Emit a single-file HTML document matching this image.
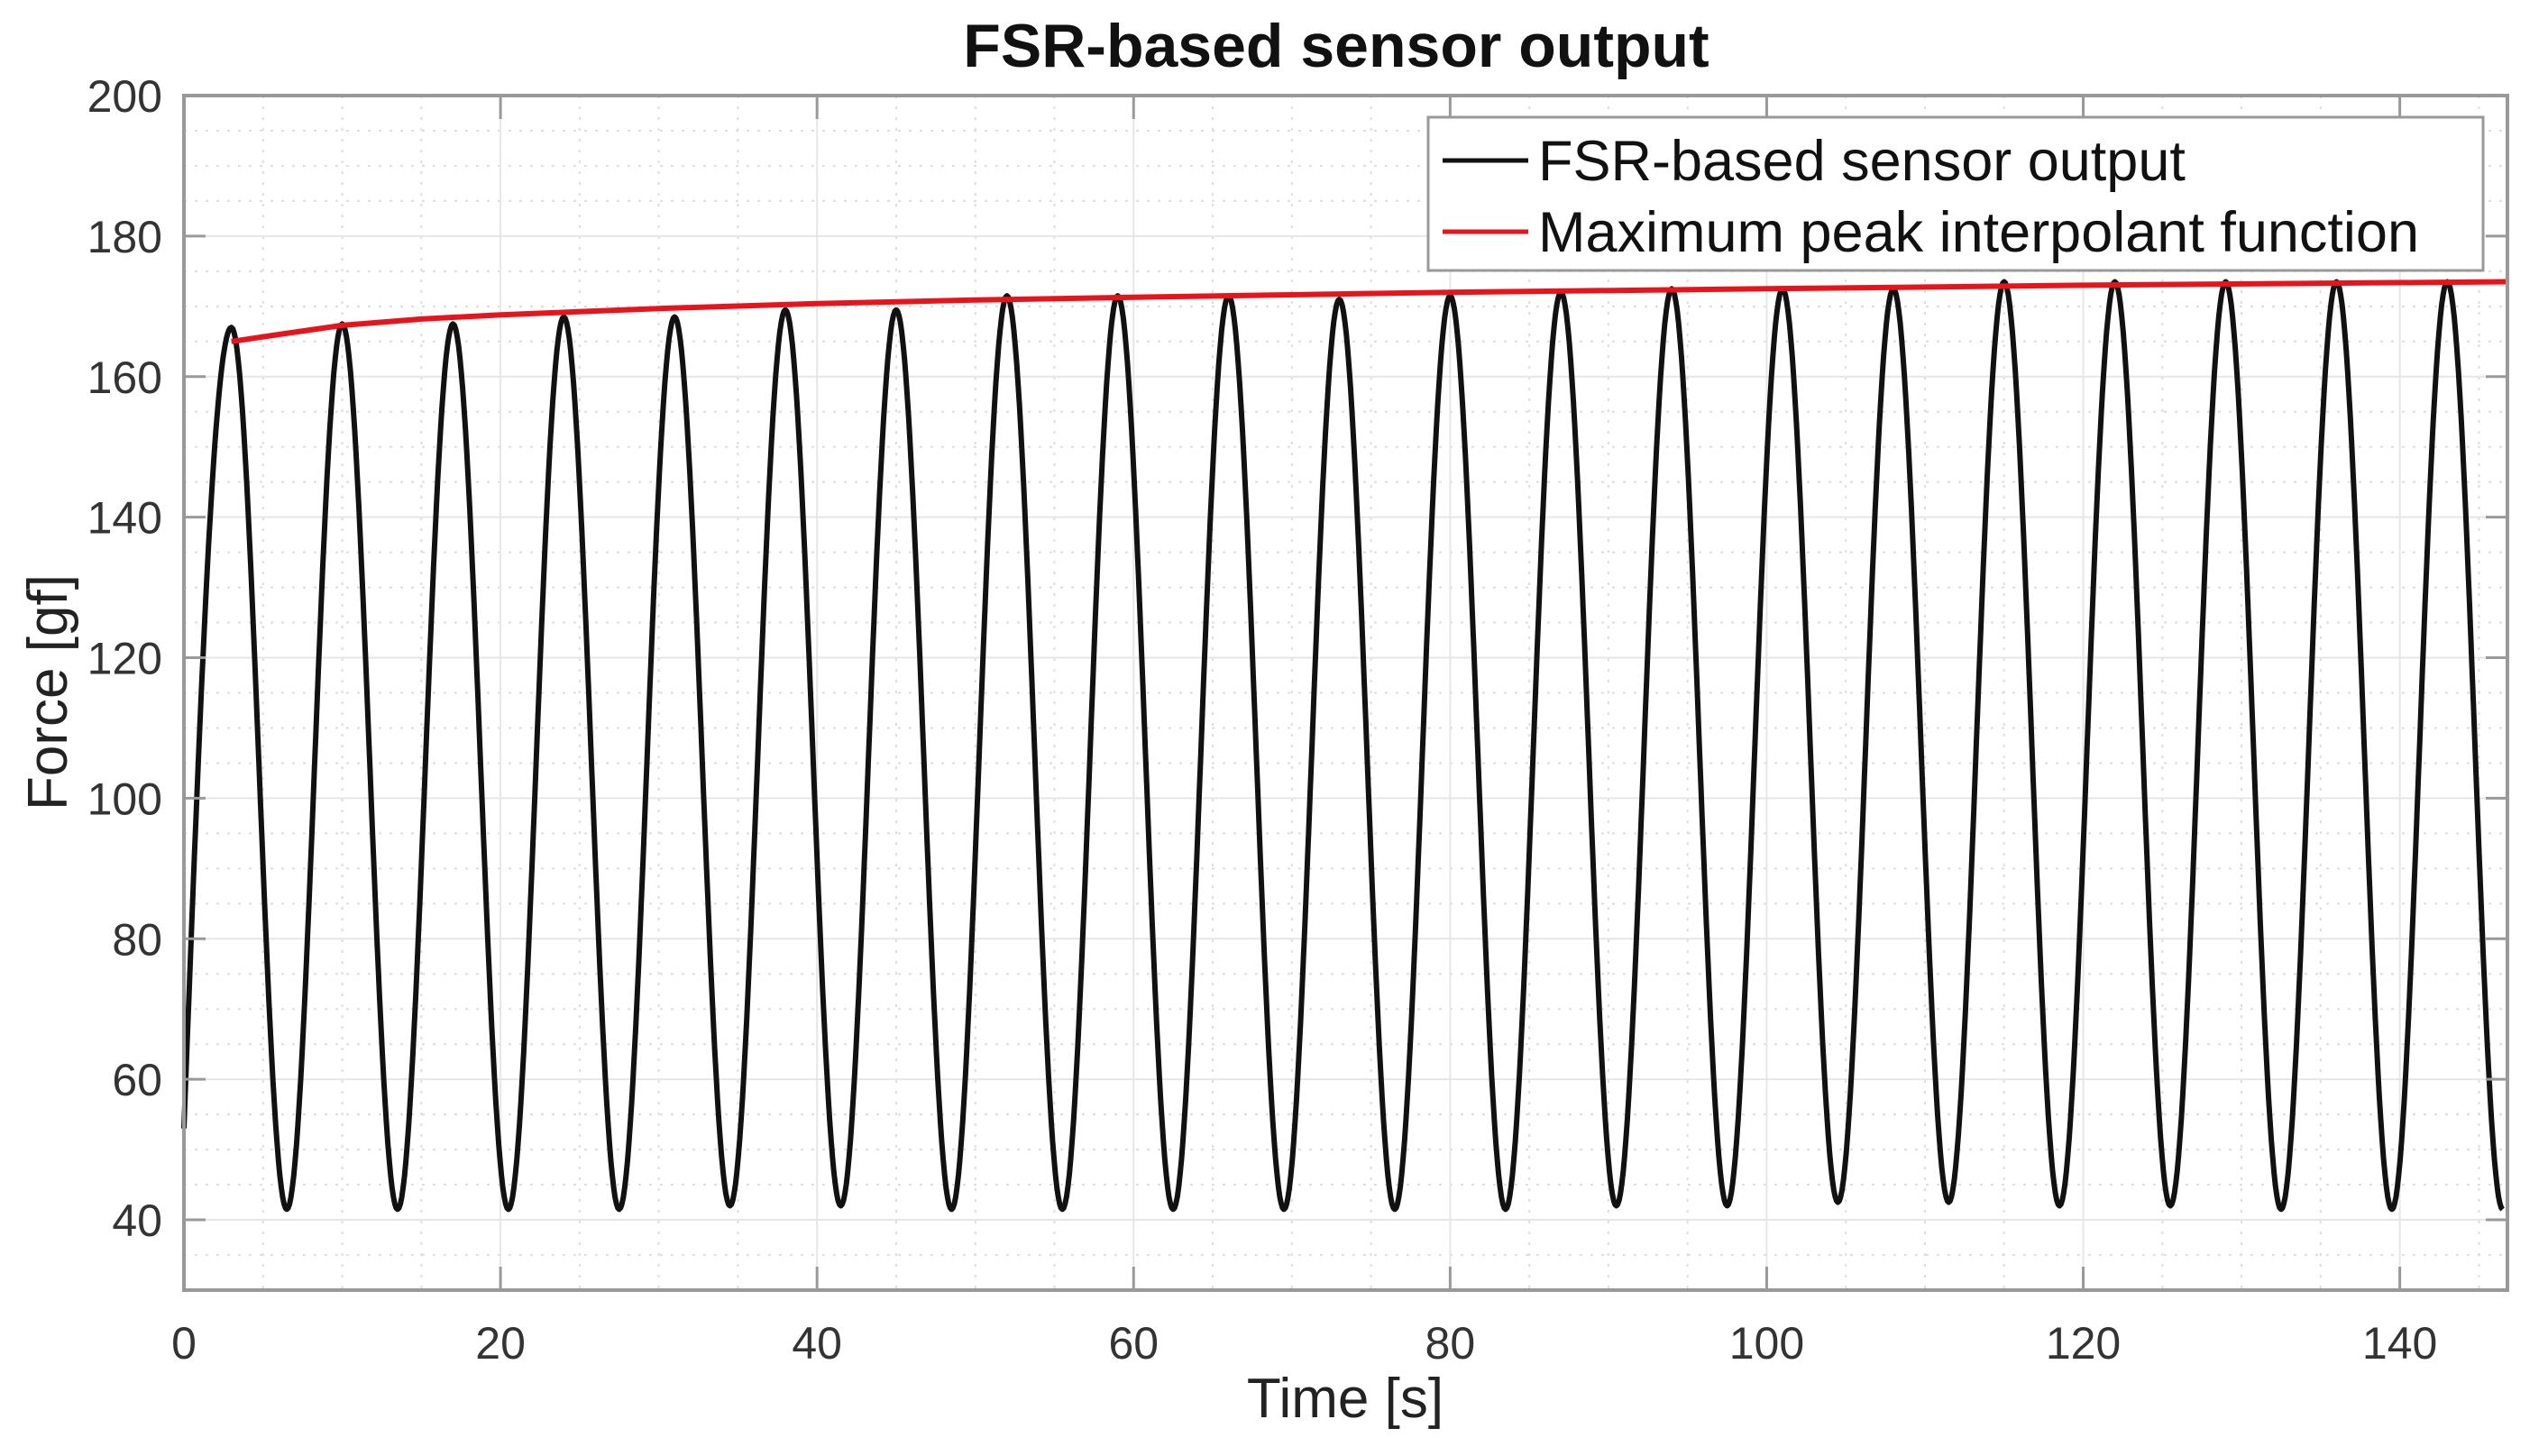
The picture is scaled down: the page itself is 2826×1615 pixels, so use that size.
<!DOCTYPE html>
<html><head><meta charset="utf-8"><style>
html,body{margin:0;padding:0;background:#fff;}
svg{display:block;font-family:"Liberation Sans",Arial,sans-serif;}
</style></head>
<body>
<svg id="chart" width="2826" height="1615" viewBox="0 0 2826 1615" xmlns="http://www.w3.org/2000/svg">
<rect width="2826" height="1615" fill="#fff"/>
<g id="grid"></g>
<g id="series"></g>
<g id="axes"></g>
<text x="1482" y="74" text-anchor="middle" font-size="68" font-weight="bold" fill="#111">FSR-based sensor output</text>
<text x="1492" y="1572" text-anchor="middle" font-size="62" fill="#222">Time [s]</text>
<text transform="translate(74,768) rotate(-90)" text-anchor="middle" font-size="62" fill="#222">Force [gf]</text>
<g>
<rect x="1584" y="130" width="1170" height="170" fill="#fff" stroke="#999" stroke-width="3"/>
<line x1="1600" y1="178" x2="1695" y2="178" stroke="#111" stroke-width="5"/>
<text x="1706" y="200" font-size="63" fill="#111">FSR-based sensor output</text>
<line x1="1600" y1="257" x2="1695" y2="257" stroke="#e8141c" stroke-width="5"/>
<text x="1706" y="279" font-size="63" fill="#111">Maximum peak interpolant function</text>
</g>
</svg>
<script>
const xTicks=[0,20,40,60,80,100,120,140];
const yTicks=[40,60,80,100,120,140,160,180,200];
const peakTimes=[3,10,17,24,31,38,45,52,59,66,73,80,87,94,101,108,115,122,129,136,143];
const peakValues=[167,167.5,167.5,168.5,168.5,169.5,169.5,171.5,171.5,171.5,171,171.5,172,172.5,172.5,172.5,173.5,173.5,173.5,173.5,173.5];
const troughTimes=[6.5,13.5,20.5,27.5,34.5,41.5,48.5,55.5,62.5,69.5,76.5,83.5,90.5,97.5,104.5,111.5,118.5,125.5,132.5,139.5,146.5];
const troughValues=[41.5,41.5,41.5,41.5,42,42,41.5,41.5,41.5,41.5,41.5,41.5,42,42,42.5,42.5,42,42,41.5,41.5,41.5];
const startValue=53;
const redTimes=[3,6,10,15,20,30,40,50,60,80,100,120,147];
const redValues=[165,166,167.3,168.2,168.8,169.7,170.4,170.9,171.3,172,172.5,173,173.5];

const X0=204,X1=2781,Y0=1431,Y1=106,XMIN=0,XMAX=146.8,YMIN=30,YMAX=200;
const sx=v=>X0+(v-XMIN)/(XMAX-XMIN)*(X1-X0);
const sy=v=>Y0-(v-YMIN)/(YMAX-YMIN)*(Y0-Y1);
const NS="http://www.w3.org/2000/svg";
function mk(tag,attrs,parent){const e=document.createElementNS(NS,tag);for(const k in attrs)e.setAttribute(k,attrs[k]);parent.appendChild(e);return e;}
const grid=document.getElementById('grid'),axes=document.getElementById('axes'),series=document.getElementById('series');
for(let v=5;v<XMAX;v+=5){if(v%20===0)continue;const l=mk('line',{x1:sx(v),x2:sx(v),y1:Y1,y2:Y0,stroke:'#ddd','stroke-width':2,'stroke-dasharray':'3 9'},grid);

}
for(let v=35;v<YMAX;v+=5){if(v%20===0)continue;const l=mk('line',{x1:X0,x2:X1,y1:sy(v),y2:sy(v),stroke:'#ddd','stroke-width':2,'stroke-dasharray':'3 9'},grid);

}
xTicks.forEach(v=>{const l=mk('line',{x1:sx(v),x2:sx(v),y1:Y1,y2:Y0,stroke:'#e6e6e6','stroke-width':2},grid);


const t=mk('line',{x1:sx(v),x2:sx(v),y1:Y0,y2:Y0-26,stroke:'#999','stroke-width':3},axes);


const tt=mk('line',{x1:sx(v),x2:sx(v),y1:Y1,y2:Y1+26,stroke:'#999','stroke-width':3},axes);


const lb=mk('text',{x:sx(v),y:Y0+76,'text-anchor':'middle','font-size':50,fill:'#333'},axes);lb.textContent=v;

});
yTicks.forEach(v=>{const l=mk('line',{x1:X0,x2:X1,y1:sy(v),y2:sy(v),stroke:'#e6e6e6','stroke-width':2},grid);


const t=mk('line',{x1:X0,x2:X0+24,y1:sy(v),y2:sy(v),stroke:'#999','stroke-width':3},axes);


const t2=mk('line',{x1:X1,x2:X1-24,y1:sy(v),y2:sy(v),stroke:'#999','stroke-width':3},axes);


const lb=mk('text',{x:X0-24,y:sy(v)+18,'text-anchor':'end','font-size':50,fill:'#333'},axes);lb.textContent=v;

});
const box=mk('rect',{x:X0,y:Y1,width:X1-X0,height:Y0-Y1,fill:'none',stroke:'#999','stroke-width':4},axes);


const ext=[[0,startValue]];
for(let i=0;i<peakTimes.length;i++){ext.push([peakTimes[i],peakValues[i]]);ext.push([troughTimes[i],troughValues[i]]);}
let d='';
for(let i=0;i<ext.length-1;i++){const [t0,v0]=ext[i],[t1,v1]=ext[i+1];
 const N=40;
 for(let k=0;k<=N;k++){const f=k/N;let t=t0+(t1-t0)*f;
  let c=(1-Math.cos(Math.PI*f))/2;
  if(i===0){c=Math.sin(Math.PI/2*f);}
  const v=v0+(v1-v0)*c;
  d+=(d?'L':'M')+sx(Math.min(t,XMAX)).toFixed(1)+','+sy(v).toFixed(1);}}
const p=mk('path',{d:d,fill:'none',stroke:'#111','stroke-width':6,'stroke-linejoin':'round'},series);


let rd='';redTimes.forEach((t,i)=>{rd+=(i?'L':'M')+sx(Math.min(t,XMAX)).toFixed(1)+','+sy(redValues[i]).toFixed(1);});
const r=mk('path',{d:rd,fill:'none',stroke:'#e8141c','stroke-width':6,'stroke-linejoin':'round'},series);


</script>
</body></html>
